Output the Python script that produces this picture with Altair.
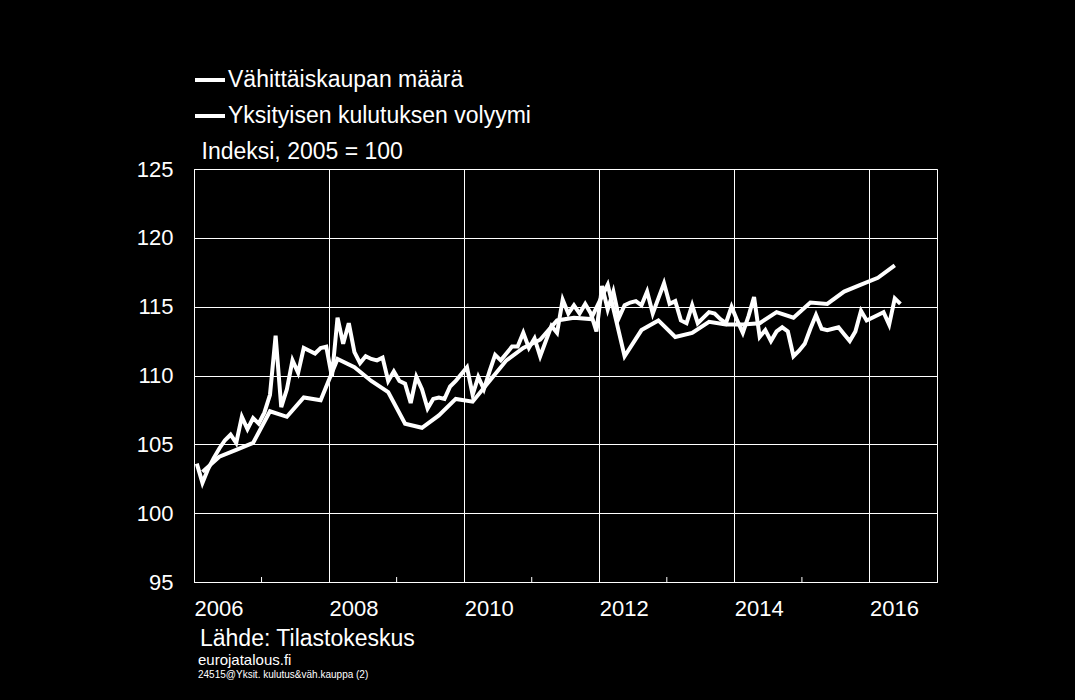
import altair as alt
import pandas as pd

series_names = ["Vähittäiskaupan määrä", "Yksityisen kulutuksen volyymi"]

# Monthly retail trade volume, Jan 2006 ->
retail_start_year = 2006
retail_values = [
    103.6, 102.2, 103.2, 104.0, 104.7, 105.3, 105.7, 105.1, 107.0, 106.1, 106.9, 106.5,
    107.3, 108.6, 112.9, 107.7, 109.0, 111.1, 110.2, 112.0, 111.8, 111.6, 112.0, 112.1,
    109.9, 114.2, 112.3, 113.8, 111.7, 110.9, 111.4, 111.2, 111.1, 111.3, 109.6, 110.3,
    109.6, 109.4, 108.0, 109.9, 109.0, 107.6, 108.3, 108.4, 108.3, 109.2, 109.6, 110.1,
    110.6, 108.6, 109.9, 109.0, 110.3, 111.5, 111.1, 111.6, 112.1, 112.1, 113.1, 112.0,
    112.7, 111.4, 112.5, 113.6, 113.1, 115.5, 114.5, 115.1, 114.5, 115.2, 114.5, 113.2,
    116.5, 114.8, 116.1, 114.2, 115.1, 115.3, 115.4, 115.1, 116.1, 114.5, 115.6, 116.7,
    115.2, 115.4, 114.0, 113.8, 115.1, 113.8, 114.2, 114.6, 114.5, 114.1, 113.8, 115.0,
    114.0, 113.1, 114.3, 115.7, 112.8, 113.3, 112.5, 113.2, 113.5, 113.2, 111.4, 111.8,
    112.3, 113.4, 114.4, 113.4, 113.3, 113.4, 113.5, 113.0, 112.5, 113.2, 114.7, 114.0,
    114.2, 114.4, 114.6, 113.7, 115.6, 115.2,
]

# Quarterly private consumption volume, Q1 2006 ->
consumption_start_year = 2006
consumption_values = [
    103.0, 104.1, 104.6, 105.1,
    107.4, 107.0, 108.4, 108.2,
    111.2, 110.6, 109.6, 108.8,
    106.5, 106.2, 107.1, 108.3,
    108.1, 109.6, 111.1, 112.0,
    112.6, 114.0, 114.2, 114.1,
    116.6, 111.4, 113.3, 114.0,
    112.8, 113.1, 113.9, 113.7,
    113.7, 113.8, 114.6, 114.2,
    115.3, 115.2, 116.1, 116.6,
    117.1, 118.0,
]

year_labels = [2006, 2008, 2010, 2012, 2014, 2016]
minor_tick_years = [2007, 2009, 2011, 2013, 2015]
y_ticks = [95, 100, 105, 110, 115, 120, 125]
x_domain = [2006, 2017]
y_domain = [95, 125]

y_title = "Indeksi, 2005 = 100"
source_text = "Lähde: Tilastokeskus"
site_text = "eurojatalous.fi"
code_text = "24515@Yksit. kulutus&väh.kauppa (2)"

rows = []
for i, v in enumerate(retail_values):
    rows.append({"t": retail_start_year + (i + 0.5) / 12, "v": v, "s": series_names[0]})
for q, v in enumerate(consumption_values):
    rows.append({"t": consumption_start_year + (q * 3 + 1.5) / 12, "v": v, "s": series_names[1]})
df = pd.DataFrame(rows)

W, H = 743, 413
FONT = "Liberation Sans"

x_enc = alt.X(
    "t:Q",
    scale=alt.Scale(domain=x_domain, nice=False, zero=False),
    axis=alt.Axis(
        values=year_labels, format="d", labelAlign="left", labelFontSize=22,
        labelColor="white", labelPadding=16, ticks=False, grid=True,
        gridColor="white", gridWidth=1, domainColor="white", title=None,
        labelFont=FONT, labelFlush=False, labelOverlap=False,
    ),
)
y_enc = alt.Y(
    "v:Q",
    scale=alt.Scale(domain=y_domain, nice=False, zero=False),
    axis=alt.Axis(
        values=y_ticks, labelFontSize=22, labelColor="white", labelPadding=21,
        ticks=False, grid=True, gridColor="white", gridWidth=1,
        domainColor="white", labelFont=FONT,
        title=y_title, titleAngle=0, titleX=7, titleY=-11, titleAlign="left",
        titleBaseline="alphabetic", titleFontSize=23, titleFontWeight="normal",
        titleColor="white", titleFont=FONT,
    ),
)

lines = alt.Chart(df).mark_line(strokeWidth=4).encode(
    x=x_enc,
    y=y_enc,
    color=alt.Color(
        "s:N",
        scale=alt.Scale(domain=series_names, range=["white", "white"]),
        legend=alt.Legend(
            orient="none", legendX=-1, legendY=-106, title=None,
            symbolType="stroke", symbolSize=900, symbolStrokeWidth=4,
            labelFontSize=23, labelColor="white", labelFont=FONT,
            rowPadding=7, labelOffset=1, padding=0, labelLimit=600,
        ),
    ),
    detail="s:N",
)

minor = alt.Chart(pd.DataFrame({"t": minor_tick_years})).mark_rule(
    color="white", strokeWidth=1
).encode(
    x=alt.X("t:Q", scale=alt.Scale(domain=x_domain, nice=False, zero=False)),
    y=alt.value(H),
    y2=alt.value(H - 5),
)

def note(text, size, x, y):
    return alt.Chart(pd.DataFrame({"label": [text]})).mark_text(
        align="left", baseline="alphabetic", fontSize=size, color="white", font=FONT
    ).encode(text="label:N", x=alt.value(x), y=alt.value(y))

chart = alt.layer(
    minor,
    lines,
    note(source_text, 23, 6, 477),
    note(site_text, 15, 4, 496),
    note(code_text, 10, 4, 509),
).properties(
    width=W,
    height=H,
    padding={"left": 194, "top": 169, "right": 138, "bottom": 118},
    autosize="none",
).configure(
    background="black",
).configure_view(
    stroke="white", strokeWidth=1,
)

chart.save("out.html", embed_options={"renderer": "svg", "actions": False})
